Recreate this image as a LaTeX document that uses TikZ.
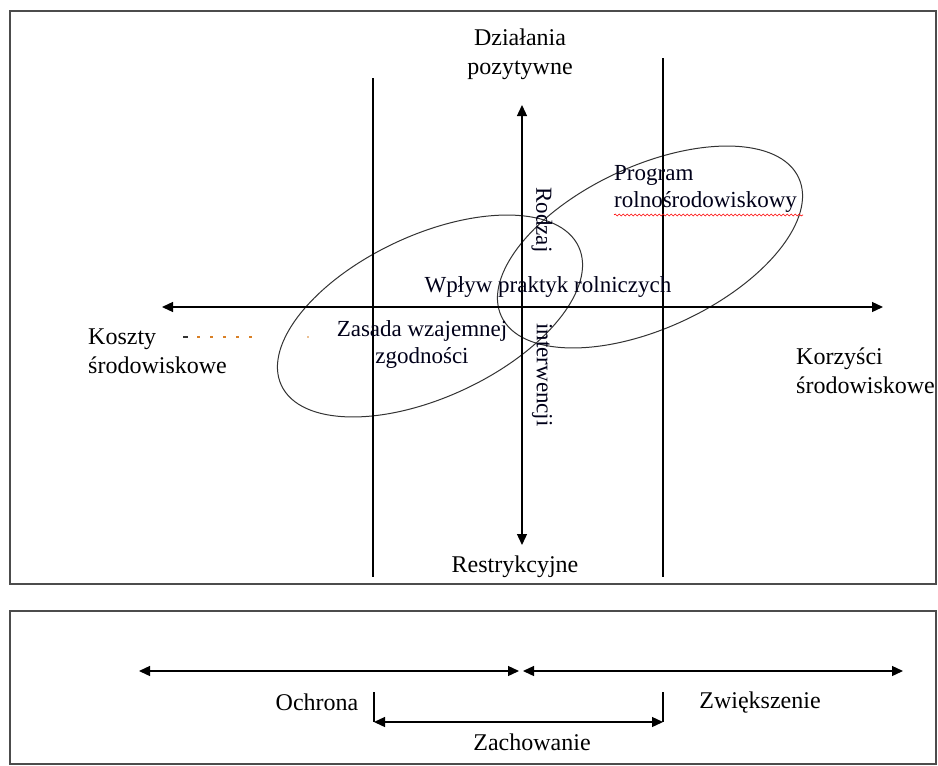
\documentclass[tikz,border=0pt]{standalone}
\usepackage{fontspec}
\setmainfont{Liberation Serif}
\usetikzlibrary{arrows.meta,decorations.pathmorphing}
\begin{document}
\begin{tikzpicture}[x=1pt,y=-1pt,
  frame/.style={draw=black!70, line width=1.8pt},
  tipd/.tip={Triangle[length=11pt,width=10pt]},
  darr/.style={line width=1.3pt, tipd-tipd},
  vline/.style={line width=1.1pt},
  ell/.style={draw=black!80, line width=1pt},
  lbl/.style={font=\fontsize{24}{29}\selectfont, align=center, inner sep=0pt},
  inlbl/.style={font=\fontsize{23}{27}\selectfont, align=center, inner sep=0pt, text=black!90!blue},
]
\useasboundingbox (0,0) rectangle (938,766);
\fill[white] (0,0) rectangle (938,766);

% frames
\draw[frame] (10,11) rectangle (936,584);
\draw[frame] (10,611) rectangle (936,764);

% ellipses
\draw[ell, rotate around={25:(430,316)}] (430,316) ellipse [x radius=164pt, y radius=81pt];
\draw[ell, rotate around={25:(650,247)}] (650,247) ellipse [x radius=164pt, y radius=81pt];

% vertical boundary lines
\coordinate (l1t) at (373,78);  \coordinate (l1b) at (373,577);
\coordinate (l2t) at (663,58);  \coordinate (l2b) at (663,577);
\draw[vline] (l1t) -- (l1b);
\draw[vline] (l2t) -- (l2b);

% axes
\coordinate (vt) at (522,105); \coordinate (vb) at (522,545);
\coordinate (hl) at (162,307); \coordinate (hr) at (883,307);
\draw[darr] (vt) -- (vb);
\draw[darr] (hl) -- (hr);

% axis labels
\node[lbl] (dzial) at (520,54) {Działania\\pozytywne};
\node[lbl] (restr) at (515,567) {Restrykcyjne};
\node[lbl, align=left, anchor=west] (koszty) at (88,351) {Koszty\\środowiskowe};
\node[lbl, align=left, anchor=west] (korz) at (796,371) {Korzyści\\środowiskowe};

% faint dashes after "Koszty"
\draw[black!80, line width=1.2pt] (183,337) -- (188,337);
\draw[brown!60!orange, line width=1.2pt, dash pattern=on 3pt off 10pt] (197,337) -- (252,337);
\fill[brown!60!orange] (308,337) circle (0.8pt);

% inner labels
\node[inlbl, align=left, anchor=west] (prog) at (614,189) {Program\\rolnośrodowiskowy};
\draw[red, line width=0.6pt, decorate, decoration={snake, amplitude=1pt, segment length=4pt}] (614,215) -- (803,215);
\node[inlbl] (wplyw) at (548,287) {Wpływ praktyk rolniczych};
\node[inlbl] (zasada) at (422,344) {Zasada wzajemnej\\zgodności};
\node[inlbl, rotate=-90] (rodzaj) at (542,220) {Rodzaj};
\node[inlbl, rotate=-90] (interw) at (542,375) {interwencji};

% bottom panel
\coordinate (a1) at (139,671); \coordinate (a2) at (519,671);
\coordinate (a3) at (523,671); \coordinate (a4) at (903,671);
\draw[darr] (a1) -- (a2);
\draw[darr] (a3) -- (a4);
\coordinate (b1t) at (374,692); \coordinate (b1b) at (374,722);
\coordinate (b2t) at (663,692); \coordinate (b2b) at (663,722);
\draw[vline] (b1t) -- (b1b);
\draw[vline] (b2t) -- (b2b);
\draw[darr] (b1b) -- (b2b);
\node[lbl] (ochr) at (317,702) {Ochrona};
\node[lbl] (zwiek) at (760,703) {Zwiększenie};
\node[lbl] (zach) at (532,742) {Zachowanie};
\end{tikzpicture}
\end{document}
